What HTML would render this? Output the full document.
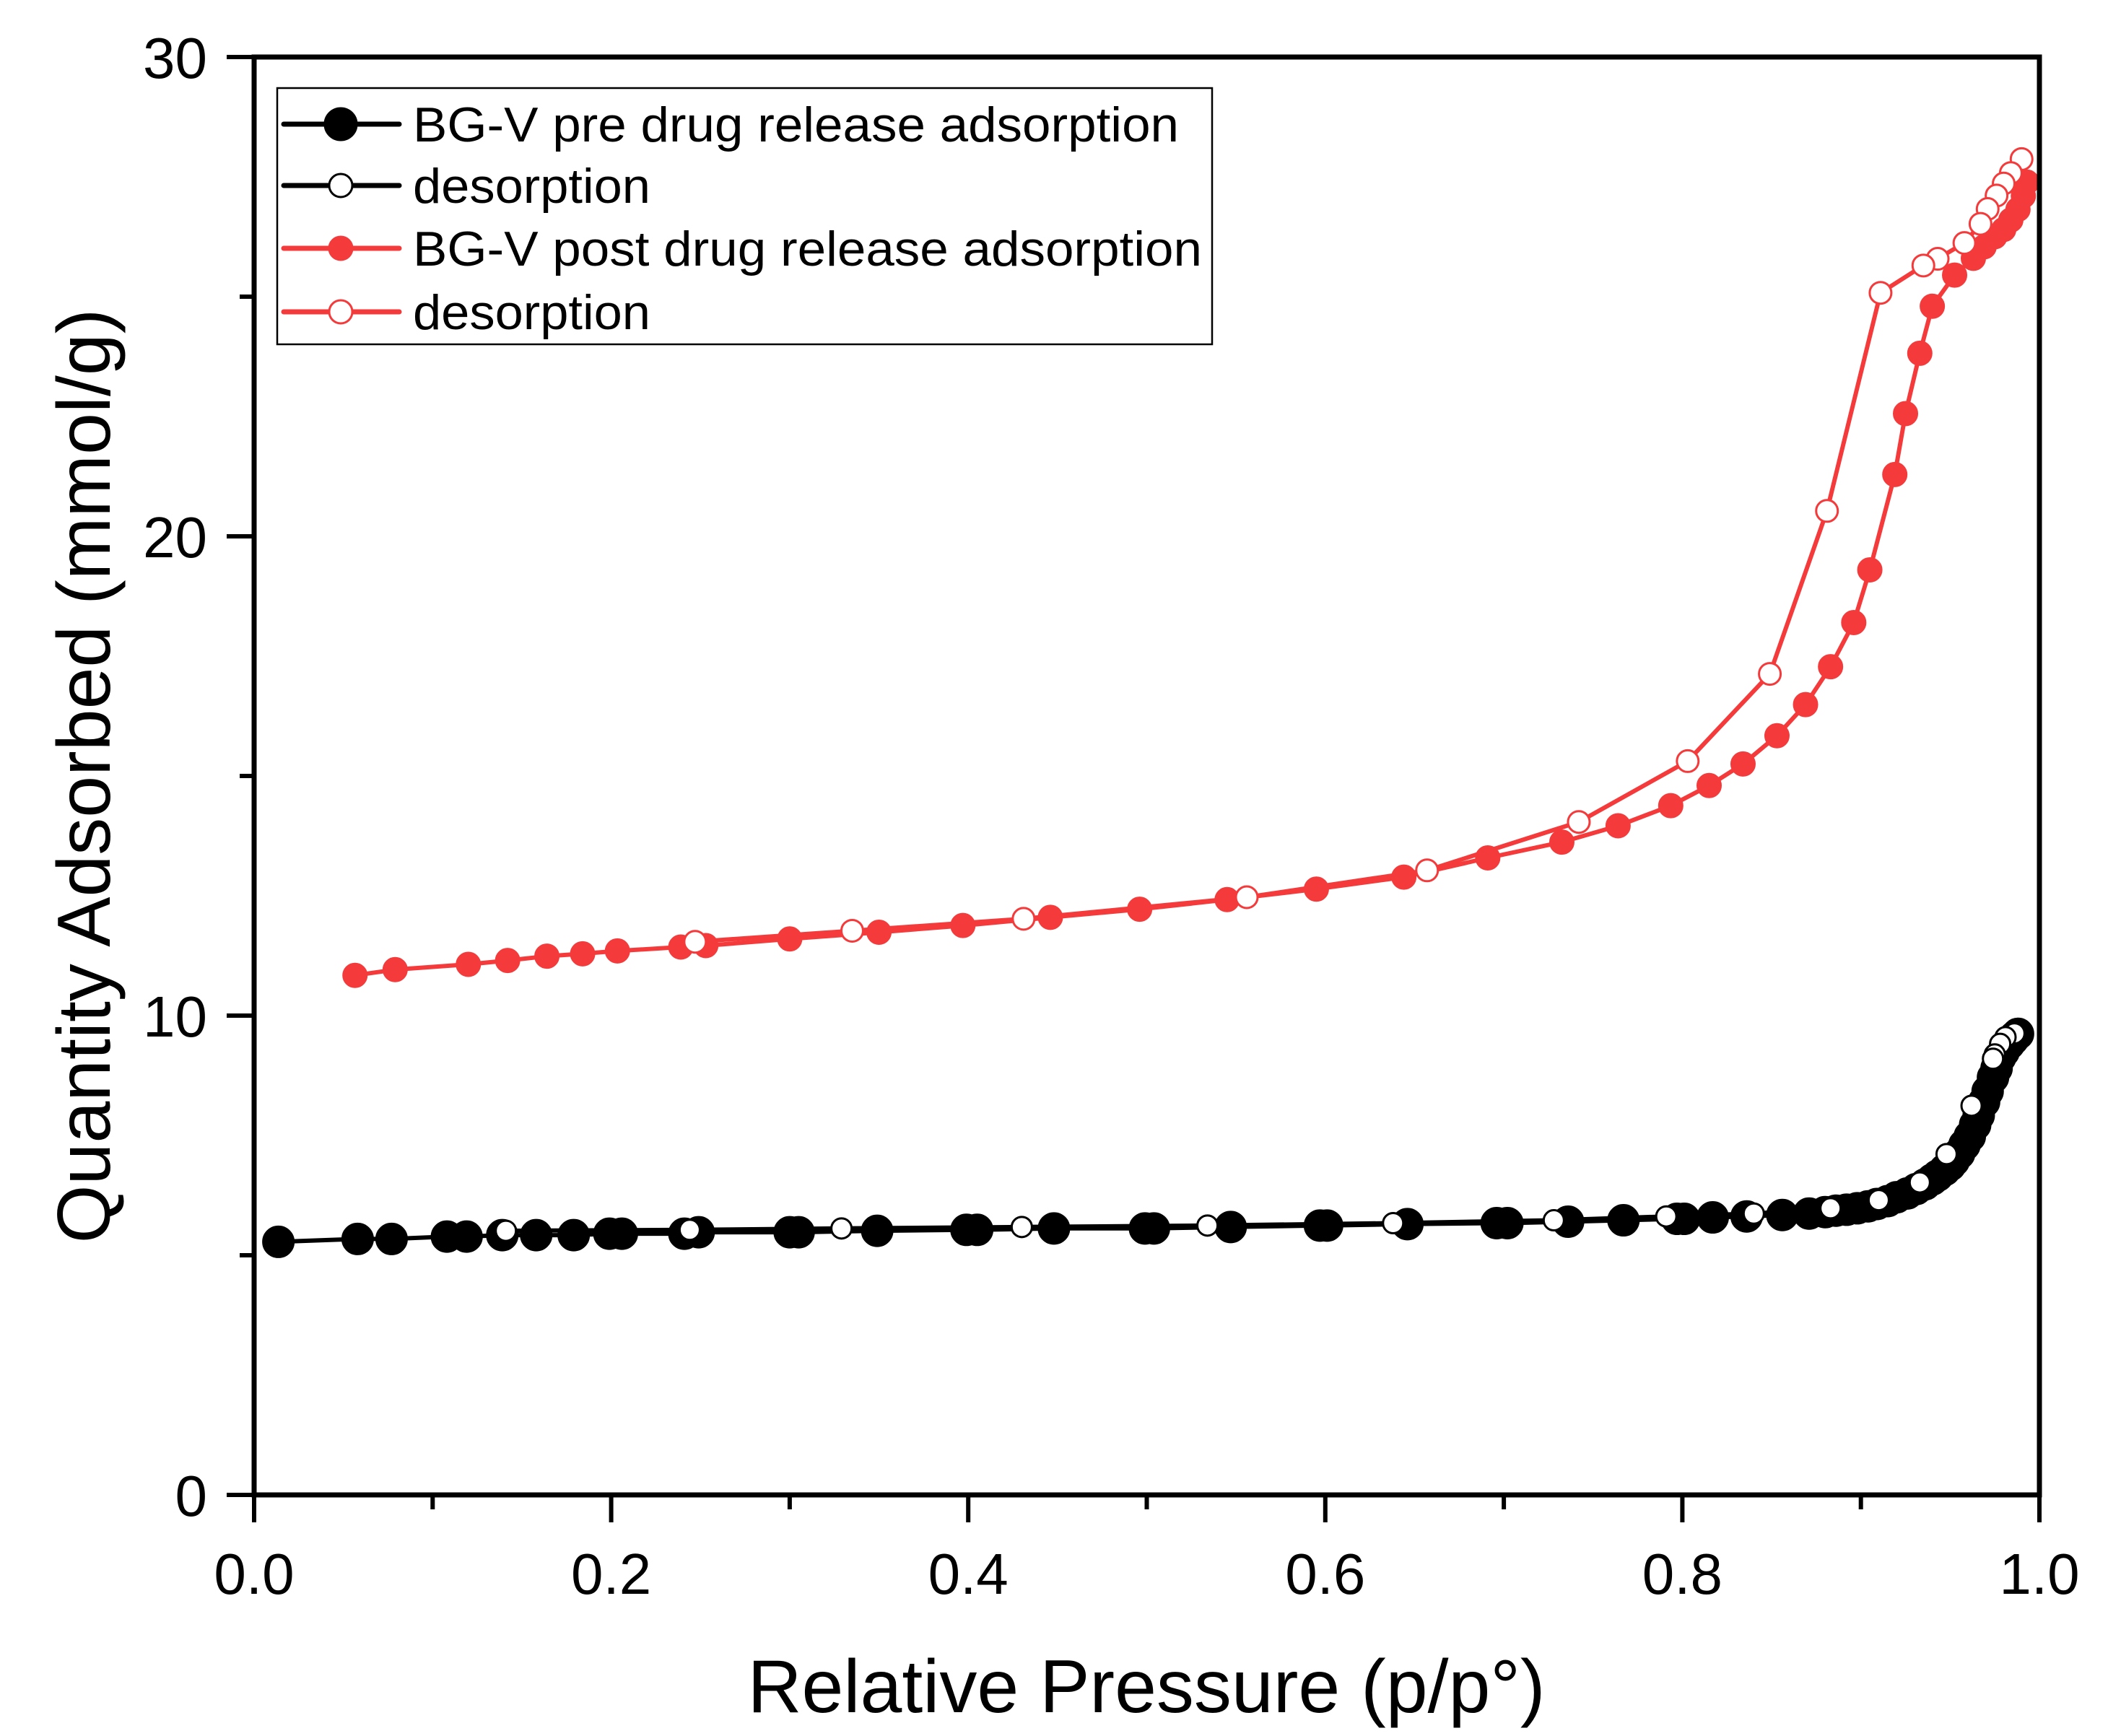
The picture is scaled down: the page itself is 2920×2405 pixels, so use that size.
<!DOCTYPE html>
<html><head><meta charset="utf-8"><style>
html,body{margin:0;padding:0;background:#fff;}
svg{display:block;font-family:"Liberation Sans",Arial,sans-serif;}
</style></head><body>
<svg id="chart" width="2920" height="2405" viewBox="0 0 2920 2405" xmlns="http://www.w3.org/2000/svg">
<rect width="2920" height="2405" fill="#fff"/>
<g id="plot"></g>
<g id="axes"></g>
<g id="legend">
  <rect x="384" y="122" width="1295" height="355" fill="#fff" stroke="#000" stroke-width="2.5"/>
</g>
</svg>
<script>
const xTicks = [0.0, 0.2, 0.4, 0.6, 0.8, 1.0];
const xTickLabels = ["0.0","0.2","0.4","0.6","0.8","1.0"];
const yTicks = [0, 10, 20, 30];
const yTickLabels = ["0","10","20","30"];
const preAdsP = [0.0136,0.058,0.077,0.108,0.119,0.139,0.158,0.179,0.199,0.206,0.241,0.249,0.300,0.305,0.349,0.399,0.405,0.448,0.499,0.504,0.547,0.597,0.601,0.646,0.696,0.702,0.736,0.767,0.797,0.801,0.817,0.836,0.856,0.871,0.880,0.886,0.892,0.898,0.904,0.909,0.915,0.920,0.926,0.931,0.936,0.940,0.943,0.947,0.950,0.952,0.955,0.958,0.961,0.964,0.966,0.969,0.971,0.974,0.976,0.978,0.980,0.983,0.985,0.986,0.988];
const preAdsV = [5.28,5.34,5.34,5.39,5.39,5.42,5.42,5.42,5.45,5.45,5.45,5.48,5.48,5.48,5.51,5.53,5.53,5.56,5.56,5.56,5.59,5.62,5.62,5.65,5.67,5.67,5.70,5.73,5.76,5.76,5.79,5.81,5.84,5.87,5.90,5.93,5.95,5.98,6.02,6.07,6.13,6.21,6.29,6.38,6.48,6.58,6.66,6.78,6.88,6.97,7.12,7.30,7.48,7.72,7.92,8.20,8.42,8.71,8.90,9.13,9.25,9.41,9.50,9.55,9.62];
const preDesP = [0.986,0.981,0.978,0.975,0.974,0.962,0.948,0.933,0.910,0.883,0.840,0.791,0.728,0.638,0.534,0.430,0.329,0.244,0.141];
const preDesV = [9.63,9.55,9.41,9.19,9.10,8.12,7.11,6.52,6.15,5.98,5.87,5.81,5.73,5.67,5.62,5.59,5.56,5.53,5.51];
const postAdsP = [0.0565,0.079,0.120,0.142,0.164,0.184,0.2035,0.239,0.253,0.300,0.350,0.397,0.446,0.496,0.545,0.595,0.644,0.691,0.7325,0.764,0.7935,0.815,0.834,0.853,0.869,0.883,0.896,0.905,0.919,0.925,0.933,0.940,0.9525,0.963,0.969,0.975,0.980,0.984,0.988,0.991,0.993];
const postAdsV = [10.84,10.96,11.07,11.15,11.24,11.29,11.35,11.43,11.46,11.60,11.74,11.88,12.05,12.22,12.42,12.64,12.89,13.29,13.62,13.96,14.38,14.80,15.25,15.84,16.49,17.28,18.20,19.30,21.29,22.56,23.82,24.80,25.45,25.80,26.04,26.25,26.40,26.60,26.82,27.10,27.39];
const postDesP = [0.990,0.984,0.980,0.976,0.971,0.967,0.958,0.943,0.935,0.911,0.881,0.849,0.803,0.742,0.657,0.556,0.431,0.335,0.247];
const postDesV = [27.87,27.58,27.36,27.11,26.83,26.52,26.12,25.79,25.65,25.08,20.53,17.13,15.31,14.04,13.03,12.47,12.02,11.77,11.54];

const NS = "http://www.w3.org/2000/svg";
const X0 = 352, X1 = 2825, Y0 = 2071, Y1 = 79;
function xs(p){ return X0 + (p - 0) / (1 - 0) * (X1 - X0); }
function ys(v){ return Y0 - (v - 0) / (30 - 0) * (Y0 - Y1); }
function mk(tag, attrs, parent){ const e = document.createElementNS(NS, tag); for (const k in attrs) e.setAttribute(k, attrs[k]); parent.appendChild(e); return e; }

const plot = document.getElementById('plot');
const axes = document.getElementById('axes');

function series(P, V, color, fill, r, name){
  const g = mk('g', {}, plot);
  
  
  const pts = P.map((p,i)=> xs(p).toFixed(1)+','+ys(V[i]).toFixed(1)).join(' ');
  const line = mk('polyline', {points: pts, fill: 'none', stroke: color, 'stroke-width': 6, 'stroke-linejoin': 'round'}, g);
  
  
  P.forEach((p,i)=>{
    const c = mk('circle', {cx: xs(p), cy: ys(V[i]), r: r, fill: fill, stroke: color, 'stroke-width': 3}, g);
    
    
  });
}
series(postAdsP, postAdsV, '#f43a3a', '#f43a3a', 16, 'post-release-adsorption');
series(postDesP, postDesV, '#f43a3a', '#fff', 15, 'post-release-desorption');
series(preAdsP, preAdsV, '#000', '#000', 21, 'pre-release-adsorption');
series(preDesP, preDesV, '#000', '#fff', 14, 'pre-release-desorption');

const frame = mk('rect', {x: X0, y: Y1, width: X1 - X0, height: Y0 - Y1, fill: 'none', stroke: '#000', 'stroke-width': 7}, axes);



for (let i = 0; i <= 10; i++) {
  const p = i / 10;
  const major = i % 2 === 0;
  const t = mk('line', {x1: xs(p), x2: xs(p), y1: Y0, y2: Y0 + (major ? 38 : 20), stroke: '#000', 'stroke-width': 6}, axes);
  
  
}
xTicks.forEach((p, i) => {
  const t = mk('text', {x: xs(p), y: 2208, 'font-size': 80, 'text-anchor': 'middle', fill: '#000'}, axes);
  t.textContent = xTickLabels[i];
  
  
});
for (let v = 0; v <= 30; v += 5) {
  const major = v % 10 === 0;
  const t = mk('line', {x1: X0 - (major ? 38 : 20), x2: X0, y1: ys(v), y2: ys(v), stroke: '#000', 'stroke-width': 6}, axes);
  
  
}
yTicks.forEach((v, i) => {
  const t = mk('text', {x: 287, y: ys(v) + 29, 'font-size': 80, 'text-anchor': 'end', fill: '#000'}, axes);
  t.textContent = yTickLabels[i];
  
  
});
const xt = mk('text', {x: 1588, y: 2372, 'font-size': 104, 'text-anchor': 'middle', fill: '#000'}, axes);
xt.textContent = 'Relative Pressure (p/p°)';


const yt = mk('text', {x: 0, y: 0, 'font-size': 104, 'text-anchor': 'middle', fill: '#000', transform: 'translate(152,1075) rotate(-90)'}, axes);
yt.textContent = 'Quantity Adsorbed (mmol/g)';



const legend = document.getElementById('legend');
const legLabels = ['BG-V pre drug release adsorption','desorption','BG-V post drug release adsorption','desorption'];
const legWidths = [1061, 329, 1093, 329];
const legColors = ['#000','#000','#f43a3a','#f43a3a'];
const legFill = ['#000','#fff','#f43a3a','#fff'];
const legR = [22,16,16,16];
const legY = [172,257,344,432];
legLabels.forEach((lab, i) => {
  const g = mk('g', {}, legend);
  
  
  mk('line', {x1: 393, x2: 553, y1: legY[i], y2: legY[i], stroke: legColors[i], 'stroke-width': 7, 'stroke-linecap': 'round'}, g);
  mk('circle', {cx: 472, cy: legY[i], r: legR[i], fill: legFill[i], stroke: legColors[i], 'stroke-width': 3}, g);
  const t = mk('text', {x: 572, y: legY[i] + 24, 'font-size': 68, fill: '#000', textLength: legWidths[i], lengthAdjust: 'spacingAndGlyphs'}, g);
  t.textContent = lab;
});
</script>
</body></html>
